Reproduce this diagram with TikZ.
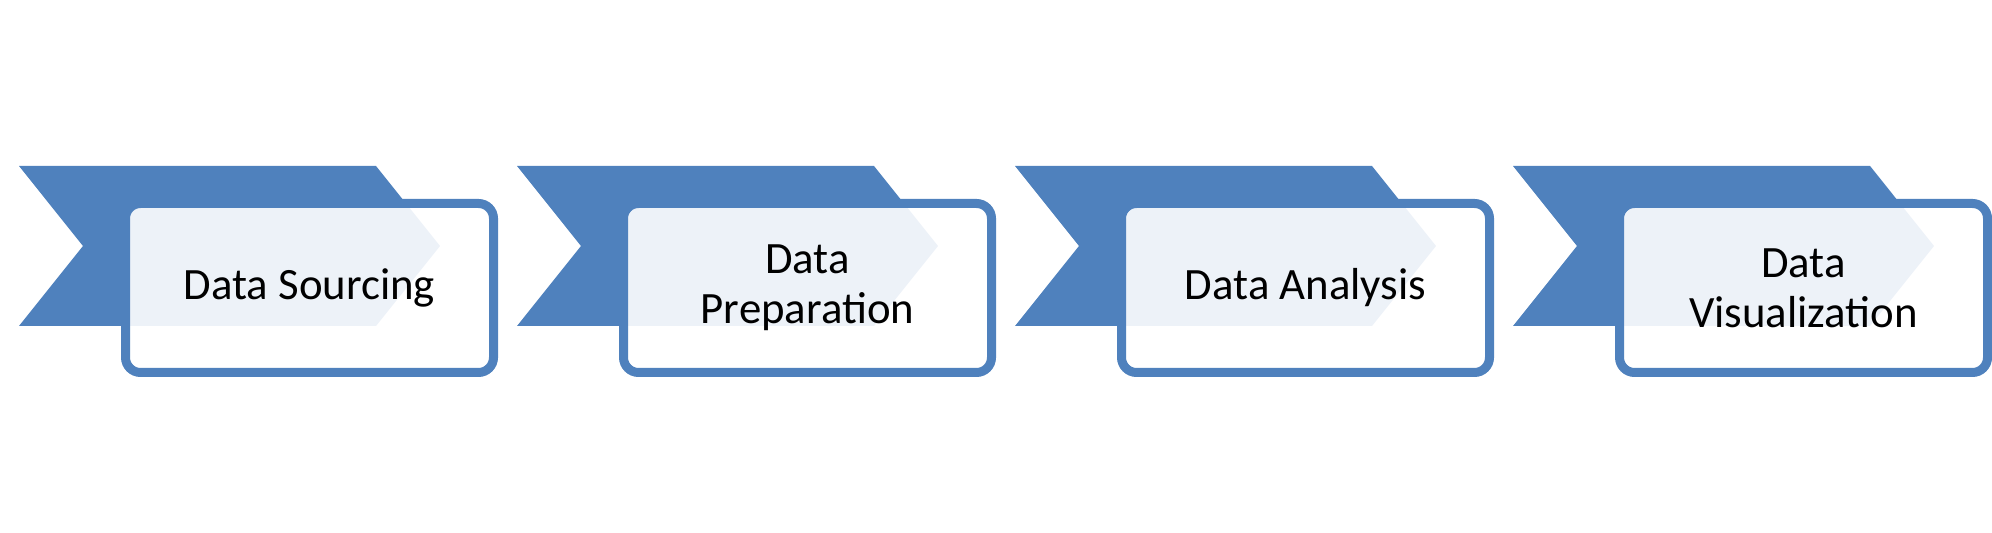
\documentclass[tikz,border=0pt]{standalone}
\usepackage{fontspec}
\setmainfont{Carlito}
\usetikzlibrary{shapes.symbols,positioning,calc}
\definecolor{stepblue}{HTML}{4F81BD}

\begin{document}
\begin{tikzpicture}[
  font=\fontsize{25.5}{28.5}\selectfont,
  % Styles
  chevron/.style={shape=signal, signal from=west, signal to=east,
    signal pointer angle=102.7, fill=stepblue, draw=none,
    minimum width=84.2mm, minimum height=32mm, inner sep=0pt, outer sep=0pt},
  stepbox/.style={draw=stepblue, line width=1.8mm, rounded corners=3mm,
    fill=white, fill opacity=0.9, text opacity=1, align=center,
    minimum width=73.6mm, minimum height=33.8mm, inner sep=0pt},
]
\useasboundingbox (0,0) rectangle (398.4mm,106.6mm);

% === Chevrons ===
\node[chevron] (chev1) at (45.9mm,57.4mm) {};
\node[chevron] (chev2) at ($(chev1.center)+(99.6mm,0)$) {};
\node[chevron] (chev3) at ($(chev2.center)+(99.6mm,0)$) {};
\node[chevron] (chev4) at ($(chev3.center)+(99.6mm,0)$) {};

% === Step boxes ===
\node[stepbox] (sourcing) at ($(chev1.center)+(16mm,-8.4mm)$) {Data Sourcing};
\node[stepbox] (preparation) at ($(chev2.center)+(16mm,-8.4mm)$) {Data\\Preparation};
\node[stepbox] (analysis) at ($(chev3.center)+(16mm,-8.4mm)$) {Data Analysis};
\node[stepbox] (visualization) at ($(chev4.center)+(16mm,-8.4mm)$) {Data\\Visualization};

\end{tikzpicture}
\end{document}
